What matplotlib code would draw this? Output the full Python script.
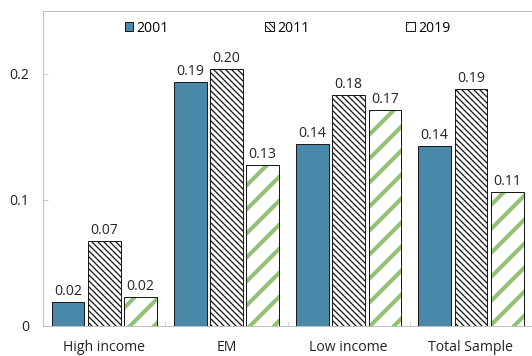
import matplotlib
matplotlib.use("Agg")
import matplotlib.pyplot as plt
from matplotlib.patches import Patch
from matplotlib.legend_handler import HandlerTuple
import numpy as np

categories = ["High income", "EM", "Low income", "Total Sample"]
series_names = ["2001", "2011", "2019"]
v2001 = [0.019, 0.194, 0.144, 0.143]
v2011 = [0.067, 0.204, 0.183, 0.188]
v2019 = [0.023, 0.128, 0.171, 0.106]
yticks = [0, 0.1, 0.2]
ytick_labels = ["0", "0.1", "0.2"]

plt.rcParams["font.family"] = ["Open Sans", "DejaVu Sans"]
FS = 14

DPI = 72
fig = plt.figure(figsize=(532 / DPI, 356 / DPI), dpi=DPI)
ax = fig.add_axes([0.081, 0.085, 0.919, 0.884])

x = np.arange(len(categories))
w = 0.268
step = 0.297
edge = "#1a1a1a"
blue = "#4a88aa"
green = "#8fc275"

# 2001: solid blue
plt.rcParams["hatch.linewidth"] = 1.0
b1 = ax.bar(x - step, v2001, w, color=blue, edgecolor=edge, linewidth=1.0, zorder=3)

# 2011: dense black back-diagonal hatch
plt.rcParams["hatch.color"] = "black"
plt.rcParams["hatch.linewidth"] = 1.3
b2 = ax.bar(x, v2011, w, color="white", edgecolor=edge, hatch="\\\\\\\\", linewidth=1.0, zorder=3)

# 2019: wide green forward-diagonal stripes, then dark outline on top
plt.rcParams["hatch.linewidth"] = 4.0
b3 = ax.bar(x + step, v2019, w, color="white", edgecolor=green, hatch="/", linewidth=0, zorder=3)
ax.bar(x + step, v2019, w, fill=False, edgecolor=edge, linewidth=1.0, zorder=4)
leg_green = Patch(facecolor="white", edgecolor=green, hatch="/", linewidth=0)

for bars, vals in ((b1, v2001), (b2, v2011), (b3, v2019)):
    for rect, v in zip(bars, vals):
        ax.annotate(f"{v:.2f}", (rect.get_x() + rect.get_width() / 2, v),
                    xytext=(0, 3), textcoords="offset points",
                    ha="center", va="bottom", fontsize=FS, color="#222222")

ax.set_xlim(-0.5, len(categories) - 0.5)
ax.set_ylim(0, 0.25)
ax.set_yticks(yticks)
ax.set_yticklabels(ytick_labels)
ax.set_xticks(x)
ax.set_xticklabels(categories)
ax.set_xticks(np.arange(0.5, len(categories) - 0.5, 1), minor=True)
ax.tick_params(axis="x", which="major", length=0, pad=14, labelsize=FS, colors="#222222")
ax.tick_params(axis="x", which="minor", direction="in", length=5, color="#bfbfbf")
ax.tick_params(axis="y", direction="in", length=5, color="#bfbfbf", pad=14,
               labelsize=FS, labelcolor="#222222")

for s in ("top", "left", "bottom"):
    ax.spines[s].set_color("#bfbfbf")
    ax.spines[s].set_linewidth(1.0)
ax.spines["right"].set_visible(False)

plt.rcParams["hatch.linewidth"] = 1.0
handles = [
    Patch(facecolor=blue, edgecolor=edge, linewidth=1.0),
    Patch(facecolor="white", edgecolor=edge, hatch="\\\\\\\\", linewidth=1.0),
    (leg_green, Patch(fill=False, edgecolor=edge, linewidth=1.0)),
]
ax.legend(handles, series_names, loc="upper center", bbox_to_anchor=(0.5, 1.0),
          ncol=3, frameon=False, handlelength=0.6, handleheight=0.6,
          handletextpad=0.25, columnspacing=6.9, fontsize=FS,
          borderaxespad=0.3, handler_map={tuple: HandlerTuple(ndivide=1, pad=0)})

fig.savefig("out.png", dpi=DPI)
